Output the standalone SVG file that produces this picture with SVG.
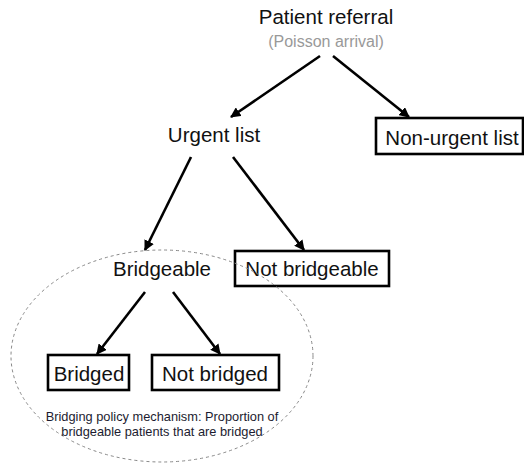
<svg xmlns="http://www.w3.org/2000/svg" width="524" height="468" viewBox="0 0 524 468">
<style>
.t{font-family:"Liberation Sans",Arial,sans-serif;font-size:20.5px;fill:#111;text-anchor:middle}
.g{font-family:"Liberation Sans",Arial,sans-serif;font-size:16px;fill:#999;text-anchor:middle}
.s{font-family:"Liberation Sans",Arial,sans-serif;font-size:12.8px;fill:#1c1c30;text-anchor:middle}
.box{fill:#fff;stroke:#000;stroke-width:2.6}
.c{stroke:#000;stroke-width:2.6;fill:none;marker-end:url(#ah)}
</style>
<defs>
<marker id="ah" viewBox="0 0 10 10" refX="9" refY="5" markerWidth="4" markerHeight="4" orient="auto" markerUnits="strokeWidth">
<path d="M0,0 L10,5 L0,10 z" fill="#000"/>
</marker>
</defs>
<rect width="524" height="468" fill="#fff"/>
<g id="connectors">
<line class="c" x1="320" y1="56" x2="231" y2="117"/>
<line class="c" x1="333" y1="56" x2="409" y2="117"/>
<line class="c" x1="191" y1="157" x2="145" y2="250"/>
<line class="c" x1="233" y1="157" x2="304" y2="250"/>
<line class="c" x1="145" y1="292" x2="97" y2="354"/>
<line class="c" x1="173" y1="292" x2="220" y2="354"/>
</g>
<g id="patient-referral">
<text class="t" x="326" y="24">Patient referral</text>
<text class="g" x="326" y="47">(Poisson arrival)</text>
</g>
<g id="urgent-list"><text class="t" x="214" y="142">Urgent list</text></g>
<g id="non-urgent-list"><rect class="box" x="376" y="118" width="147" height="36"/><text class="t" x="452" y="145">Non-urgent list</text></g>
<g id="bridgeable"><text class="t" x="162" y="276">Bridgeable</text></g>
<g id="not-bridgeable"><rect class="box" x="235" y="251" width="154" height="35"/><text class="t" x="312" y="276">Not bridgeable</text></g>
<g id="bridged"><rect class="box" x="48" y="355" width="81" height="35"/><text class="t" x="89" y="381">Bridged</text></g>
<g id="not-bridged"><rect class="box" x="152" y="355" width="127" height="35"/><text class="t" x="215" y="381">Not bridged</text></g>
<g id="policy">
<ellipse cx="162" cy="356" rx="151" ry="106" fill="none" stroke="#888" stroke-width="1" stroke-dasharray="3,3"/>
<text class="s" x="162" y="421">Bridging policy mechanism: Proportion of</text>
<text class="s" x="162" y="436">bridgeable patients that are bridged</text>
</g>
</svg>
